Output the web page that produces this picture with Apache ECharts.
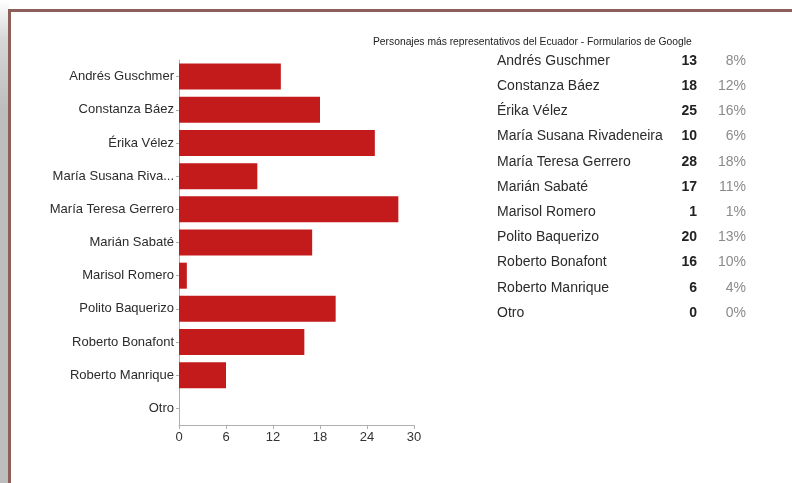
<!DOCTYPE html>
<html>
<head>
<meta charset="utf-8">
<script src="https://cdn.jsdelivr.net/npm/echarts@6/dist/echarts.min.js"></script>
<style>
  html, body { margin: 0; padding: 0; background: #fff; }
  body { width: 792px; height: 483px; position: relative; overflow: hidden; }
  /* grey strip on the left, fading in from the top */
  .edge {
    position: absolute; left: 0; top: 0; width: 9px; height: 483px;
    background: linear-gradient(to bottom, #ffffff 0px, #d6d6d6 40px, #bdbdbd 110px, #bdbdbd 100%);
  }
  /* brown frame line (top + left) */
  .frame {
    position: absolute; left: 8px; top: 9px; width: 784px; height: 474px;
    border-top: 3px solid #8c5f5a; border-left: 3px solid #8c5f5a;
    box-sizing: border-box;
  }
  #chart { position: absolute; left: 0; top: 0; width: 792px; height: 483px; }
</style>
</head>
<body>
<div class="edge"></div>
<div class="frame"></div>
<div id="chart"></div>
<script>
// datos
const personajes = [
  "Andrés Guschmer", "Constanza Báez", "Érika Vélez", "María Susana Rivadeneira",
  "María Teresa Gerrero", "Marián Sabaté", "Marisol Romero", "Polito Baquerizo",
  "Roberto Bonafont", "Roberto Manrique", "Otro"
];
const votos = [13, 18, 25, 10, 28, 17, 1, 20, 16, 6, 0];
const porcentajes = ["8%", "12%", "16%", "6%", "18%", "11%", "1%", "13%", "10%", "4%", "0%"];
const ticksX = [0, 6, 12, 18, 24, 30];

const titulo = "Personajes más representativos del Ecuador - Formularios de Google";
const fuente = "'Liberation Sans', Arial, sans-serif";

const chart = echarts.init(document.getElementById("chart"));

// tabla de la derecha (texto)
const filaY0 = 61, filaPaso = 25.2;
const tabla = [];
personajes.forEach((nombre, i) => {
  const y = filaY0 + i * filaPaso;
  tabla.push({
    type: "text", x: 497, y: y,
    style: { text: nombre, fill: "#2b2b2b", font: "14px " + fuente,
             textAlign: "left", textVerticalAlign: "middle" }
  });
  tabla.push({
    type: "text", x: 697, y: y,
    style: { text: String(votos[i]), fill: "#222", font: "bold 14px " + fuente,
             textAlign: "right", textVerticalAlign: "middle" }
  });
  tabla.push({
    type: "text", x: 746, y: y,
    style: { text: porcentajes[i], fill: "#8a8a8a", font: "14px " + fuente,
             textAlign: "right", textVerticalAlign: "middle" }
  });
});

const option = {
  animation: false,
  textStyle: { fontFamily: fuente },
  title: {
    text: titulo,
    left: 368, top: 32,
    textStyle: { fontSize: 10.3, fontWeight: "normal", color: "#222", fontFamily: fuente }
  },
  grid: { left: 179, right: 378, top: 60, bottom: 58, containLabel: false },
  xAxis: {
    type: "value",
    min: ticksX[0], max: ticksX[ticksX.length - 1], interval: 6,
    splitLine: { show: false },
    axisLine: { show: true, lineStyle: { color: "#b0b0b0" } },
    axisTick: { show: true, length: 4, lineStyle: { color: "#b0b0b0" } },
    axisLabel: { color: "#333", fontSize: 13, margin: 6 }
  },
  yAxis: {
    type: "category",
    inverse: true,
    data: personajes,
    axisLine: { show: true, lineStyle: { color: "#b0b0b0" } },
    axisTick: { show: true, length: 3, alignWithLabel: true, lineStyle: { color: "#b0b0b0" } },
    axisLabel: { color: "#2b2b2b", fontSize: 13, margin: 5, width: 126, overflow: "truncate" }
  },
  series: [{
    type: "bar",
    data: votos,
    barWidth: 26,
    itemStyle: { color: "#c31a1c" }
  }],
  graphic: tabla
};

chart.setOption(option);
</script>
</body>
</html>
